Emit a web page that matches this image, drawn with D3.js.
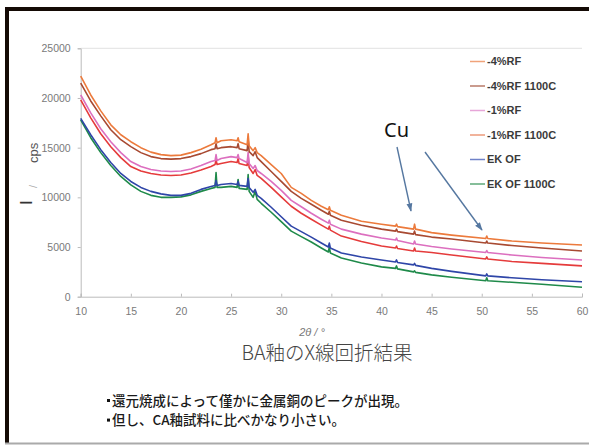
<!DOCTYPE html>
<html>
<head>
<meta charset="utf-8">
<script src="https://cdn.jsdelivr.net/npm/d3@7"></script>
<style>
  body { margin: 0; background: #fff; }
  text { font-family: "Liberation Sans", Arial, sans-serif; }
  .jp { font-family: "Noto Sans CJK JP", sans-serif; }
</style>
</head>
<body>
<svg id="chart" width="589" height="446"></svg>
<script>
// 2θ positions (deg) shared by every series
var twoTheta = [10,11,12,13,14,15,16,17,18,19,20,21,22,23,23.4,23.5,23.6,24,25,25.6,25.7,25.8,26.6,26.7,26.8,27.2,27.4,27.6,
  28,29,30,31,32,33,34,34.7,34.8,34.9,36,38,40,41.4,41.5,41.6,43.2,43.3,43.4,45,47,50.4,50.5,50.6,53,56,60] ;

// intensities in thousands of cps
var rf4 = [22.2,20.3,18.7,17.3,16.3,15.6,15.0,14.55,14.3,14.2,14.25,14.5,14.85,15.3,15.5,16.0,15.5,15.7,15.8,15.7,16.0,15.6,15.3,16.4,15.2,14.7,15.0,14.5,
  14.2,13.3,12.4,11.0,10.4,9.7,9.1,8.75,9.05,8.7,8.2,7.6,7.3,7.1,7.3,7.05,6.8,7.3,6.8,6.45,6.2,5.85,6.1,5.85,5.6,5.4,5.2] ;
var rf4h = [21.5,19.7,18.2,16.8,15.8,15.1,14.5,14.1,13.9,13.85,13.9,14.1,14.4,14.8,14.9,15.4,14.9,15.0,15.1,15.0,15.4,14.9,14.7,15.8,14.6,14.2,14.6,14.0,
  13.6,12.6,11.6,10.6,9.9,9.3,8.7,8.3,8.6,8.2,7.7,7.2,6.8,6.6,6.8,6.55,6.3,6.6,6.25,6.0,5.8,5.4,5.6,5.4,5.15,4.9,4.6] ;
var rf1 = [20.3,18.5,16.9,15.6,14.5,13.6,13.1,12.8,12.65,12.6,12.65,12.85,13.2,13.6,13.7,14.3,13.7,13.9,14.1,14.0,14.3,13.9,13.5,14.5,13.4,12.9,13.2,12.7,
  12.4,11.6,10.7,9.7,9.05,8.4,7.8,7.4,7.7,7.3,6.8,6.3,5.9,5.7,5.9,5.65,5.3,5.6,5.3,5.05,4.8,4.45,4.65,4.45,4.2,3.95,3.7] ;
var rf1h = [19.8,18.0,16.4,15.1,14.0,13.1,12.65,12.4,12.25,12.2,12.25,12.45,12.75,13.1,13.3,13.8,13.3,13.4,13.6,13.5,13.9,13.4,13.2,14.2,13.0,12.4,12.8,12.2,
  11.9,11.0,10.05,9.1,8.4,7.8,7.2,6.8,7.1,6.7,6.1,5.55,5.1,4.9,5.1,4.85,4.6,4.9,4.6,4.45,4.2,3.8,4.0,3.8,3.55,3.35,3.1] ;
var ekof = [17.95,16.3,14.8,13.5,12.4,11.6,11.0,10.6,10.35,10.2,10.2,10.4,10.8,11.1,11.2,11.7,11.2,11.3,11.4,11.3,11.6,11.2,11.1,11.9,11.0,10.5,10.8,10.2,
  9.9,9.0,8.05,7.1,6.55,6.0,5.4,5.0,5.4,4.9,4.4,4.0,3.7,3.5,3.7,3.45,3.2,3.35,3.15,2.85,2.55,2.1,2.3,2.1,1.9,1.7,1.5] ;
var ekofh = [17.8,16.0,14.5,13.2,12.1,11.25,10.6,10.2,10.0,10.0,10.05,10.25,10.6,10.9,11.0,12.5,11.0,11.0,11.1,11.0,11.8,10.9,10.8,12.3,10.6,10.0,10.6,9.8,
  9.4,8.5,7.55,6.6,6.05,5.5,4.9,4.5,5.0,4.4,3.9,3.4,3.0,2.85,3.1,2.8,2.5,2.6,2.45,2.2,1.95,1.6,1.9,1.6,1.45,1.25,0.95] ;

var seriesNames = ['-4%RF','-4%RF 1100C','-1%RF','-1%RF 1100C','EK OF','EK OF 1100C'] ;
var seriesColors = ['#ec7a3c','#a84a32','#dc6fbf','#e53b3b','#2f46a8','#1f8a4a'] ;
var legendColors = ['#f0a37a','#b87a68','#e7a6d8','#ec9a7a','#6f82c8','#5ea878'] ;
var seriesData = [rf4, rf4h, rf1, rf1h, ekof, ekofh] ;

var xTicks = [10,15,20,25,30,35,40,45,50,55,60] ;
var yTicks = [0,5000,10000,15000,20000,25000] ;

var svg = d3.select('#chart') ;

// slide frame
svg.append('rect').attr('x',5).attr('y',7).attr('width',590).attr('height',4).attr('fill','#140a05') ;
svg.append('rect').attr('x',5).attr('y',7).attr('width',4).attr('height',437).attr('fill','#140a05') ;
svg.append('rect').attr('x',5).attr('y',442.5).attr('width',590).attr('height',2).attr('fill','#aaaaaa') ;

var x = d3.scaleLinear().domain([10,60]).range([80.7,582]) ;
var y = d3.scaleLinear().domain([0,25000]).range([296.7,48.3]) ;

// top border of plot area
svg.append('line').attr('x1',x(10)).attr('x2',x(60)).attr('y1',y(25000)).attr('y2',y(25000))
  .attr('stroke','#e2e2e2').attr('stroke-width',1) ;

var yAxis = svg.append('g').attr('transform','translate(' + x(10) + ',0)')
  .call(d3.axisLeft(y).tickValues(yTicks).tickSize(3).tickPadding(7).tickFormat(d3.format('d'))) ;
var xAxis = svg.append('g').attr('transform','translate(0,' + y(0) + ')')
  .call(d3.axisBottom(x).tickValues(xTicks).tickSize(-3).tickPadding(11)) ;
[xAxis, yAxis].forEach(function(g) {
  g.select('.domain').attr('stroke','#bbbbbb') ;
  g.selectAll('.tick line').attr('stroke','#bbbbbb') ;
  g.selectAll('.tick text').attr('fill','#7a7a7a').style('font-size','10.5px')
    .style('font-family','"Liberation Sans", Arial, sans-serif') ;
}) ;

// series
var line = d3.line()
  .x(function(d,i) { return x(twoTheta[i]) ; })
  .y(function(d) { return y(d * 1000) ; }) ;
for ( var s = seriesData.length - 1 ; s >= 0 ; --s ) {
  svg.append('path').attr('d', line(seriesData[s])).attr('fill','none')
    .attr('stroke', seriesColors[s]).attr('stroke-width',1.6).attr('stroke-linejoin','round') ;
}

// legend
var legendY = d3.scaleLinear().domain([0,5]).range([61.5,184]) ;
for ( var i = 0 ; i < seriesNames.length ; ++i ) {
  svg.append('line').attr('x1',470).attr('x2',485).attr('y1',legendY(i)).attr('y2',legendY(i))
    .attr('stroke', legendColors[i]).attr('stroke-width',1.5) ;
  svg.append('text').attr('x',487).attr('y',legendY(i)).attr('dy','0.36em')
    .attr('fill','#3a3a3a').style('font-size','11px').style('font-weight','bold').text(seriesNames[i]) ;
}

// Cu annotation
svg.append('text').attr('x',384).attr('y',137).attr('fill','#111').style('font-size','20px')
  .style('font-family','"Noto Sans", sans-serif').text('Cu') ;
svg.append('defs').append('marker').attr('id','arr').attr('viewBox','0 0 10 10')
  .attr('refX',9).attr('refY',5).attr('markerWidth',6).attr('markerHeight',6).attr('orient','auto')
  .append('path').attr('d','M0,1.5 L10,5 L0,8.5 Z').attr('fill','#5577a0') ;
[[397,147,411,211],[425,152,482,230]].forEach(function(a) {
  svg.append('line').attr('x1',a[0]).attr('y1',a[1]).attr('x2',a[2]).attr('y2',a[3])
    .attr('stroke','#5577a0').attr('stroke-width',1.4).attr('marker-end','url(#arr)') ;
}) ;

// axis titles
svg.append('text').attr('transform','translate(32,205) rotate(-90)').attr('fill','#333')
  .style('font-size','17px').text('I') ;
svg.append('text').attr('transform','translate(37,188) rotate(-90)').attr('fill','#aaa')
  .style('font-size','11px').text('/') ;
svg.append('text').attr('transform','translate(38,163) rotate(-90)').attr('fill','#555')
  .style('font-size','13px').text('cps') ;
svg.append('text').attr('x',312).attr('y',336).attr('text-anchor','middle').attr('fill','#777')
  .style('font-size','11px').style('font-style','italic').text('2θ / °') ;

svg.append('text').attr('class','jp').attr('x',327).attr('y',360).attr('text-anchor','middle')
  .attr('fill','#444').style('font-size','19.5px').style('font-weight','300').text('BA釉のX線回折結果') ;

var notes = ['還元焼成によって僅かに金属銅のピークが出現。','但し、CA釉試料に比べかなり小さい。'] ;
notes.forEach(function(n,i) {
  var yy = 401 + i * 19.6 ;
  svg.append('rect').attr('x',107).attr('y',yy - 2).attr('width',3).attr('height',3).attr('fill','#111') ;
  svg.append('text').attr('class','jp').attr('x',112).attr('y',yy).attr('dy','0.36em')
    .attr('fill','#1a1a1a').style('font-size','13.5px').style('font-weight','500').text(n) ;
}) ;
</script>
</body>
</html>
